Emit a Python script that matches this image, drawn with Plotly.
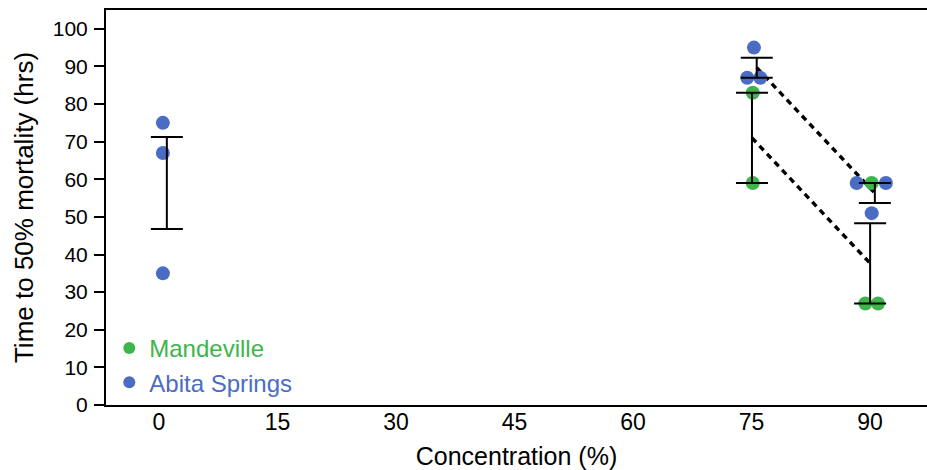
import numpy as np
import plotly.graph_objects as go

# ---- data ----
concentrations = [0, 75, 90]
x_ticks = [0, 15, 30, 45, 60, 75, 90]
y_ticks = [0, 10, 20, 30, 40, 50, 60, 70, 80, 90, 100]

# Abita Springs replicate values (hrs) per concentration
abita_values = {0: [75, 67, 35], 75: [95, 87, 87], 90: [59, 59, 51]}
# Mandeville replicate values (hrs) per concentration
mandeville_values = {75: [83, 59], 90: [59, 27, 27]}

# small horizontal jitter of the plotted points (concentration units)
abita_jitter = {0: [0.5, 0.5, 0.5], 75: [0.3, -0.55, 1.1], 90: [-1.7, 2.0, 0.2]}
mandeville_jitter = {75: [0.15, 0.15], 90: [0.2, -0.6, 1.0]}
abita_bar_offset = {0: 1.0, 75: 0.65, 90: 0.6}
mandeville_bar_offset = {75: 0.05, 90: 0.0}

GREEN = "#3DB54A"
BLUE = "#4A6DC3"


def mean_sem(v):
    v = np.asarray(v, dtype=float)
    return v.mean(), v.std(ddof=1) / np.sqrt(len(v))


fig = go.Figure()

# dashed lines linking the group means at 75 and 90
for vals, offs in ((abita_values, abita_bar_offset), (mandeville_values, mandeville_bar_offset)):
    xs = [c + offs[c] for c in (75, 90)]
    ys = [mean_sem(vals[c])[0] for c in (75, 90)]
    fig.add_trace(go.Scatter(x=xs, y=ys, mode="lines", showlegend=False, hoverinfo="skip",
                             line=dict(color="black", width=3.4, dash="6px,5px")))

# points
mx, my = [], []
for c, vals in mandeville_values.items():
    mx += [c + j for j in mandeville_jitter[c]]
    my += vals
fig.add_trace(go.Scatter(x=mx, y=my, mode="markers",
                         name='<span style="color:%s">Mandeville</span>' % GREEN,
                         marker=dict(color=GREEN, size=14)))
ax_, ay_ = [], []
for c, vals in abita_values.items():
    ax_ += [c + j for j in abita_jitter[c]]
    ay_ += vals
fig.add_trace(go.Scatter(x=ax_, y=ay_, mode="markers",
                         name='<span style="color:%s">Abita Springs</span>' % BLUE,
                         marker=dict(color=BLUE, size=14)))

# error bars (mean +/- SEM), drawn over the points
for vals, offs in ((abita_values, abita_bar_offset), (mandeville_values, mandeville_bar_offset)):
    xs, ys, es = [], [], []
    for c in vals:
        m, s = mean_sem(vals[c])
        xs.append(c + offs[c]); ys.append(m); es.append(s)
    fig.add_trace(go.Scatter(x=xs, y=ys, mode="markers", showlegend=False, hoverinfo="skip",
                             marker=dict(size=1, color="rgba(0,0,0,0)"),
                             error_y=dict(type="data", array=es, visible=True,
                                          color="black", thickness=2, width=16)))

font = "Liberation Sans, Arial, Helvetica, sans-serif"
fig.update_layout(
    width=927, height=470,
    margin=dict(l=106, r=0, t=10, b=65),
    paper_bgcolor="white", plot_bgcolor="white",
    font=dict(family=font, size=21, color="black"),
    legend=dict(x=0.004, y=0.0, xanchor="left", yanchor="bottom",
                bgcolor="rgba(0,0,0,0)", font=dict(size=24), itemsizing="constant",
                tracegroupgap=0),
    xaxis=dict(range=[-6.7, 97.2], tickvals=x_ticks, ticks="", showgrid=False, zeroline=False,
               showline=True, linecolor="black", linewidth=2, mirror=True,
               tickfont=dict(size=23), ticklabelstandoff=-5, automargin=False,
               title=dict(text="Concentration (%)", font=dict(size=25), standoff=15)),
    yaxis=dict(range=[0, 105], tickvals=y_ticks, ticks="outside", ticklen=10, tickwidth=1.5,
               tickcolor="black", showgrid=False, zeroline=False,
               showline=True, linecolor="black", linewidth=2,
               tickfont=dict(size=21), automargin=False, ticklabelstandoff=2,
               title=dict(text="Time to 50% mortality (hrs)", font=dict(size=26), standoff=12)),
)

fig.write_html("out.html", config={"displayModeBar": False},
               post_script="document.body.style.margin='0';document.body.style.overflow='hidden';")
